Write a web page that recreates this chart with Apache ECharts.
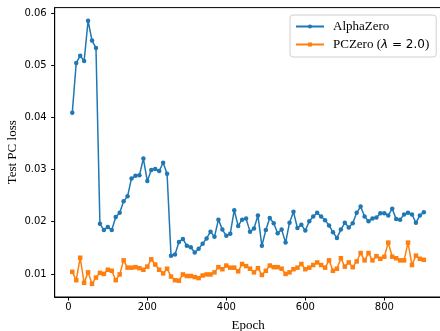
<!DOCTYPE html>
<html>
<head>
<meta charset="utf-8">
<script src="https://cdn.jsdelivr.net/npm/echarts@6/dist/echarts.min.js"></script>
<style>
html,body{margin:0;padding:0;background:#fff;}
#c{width:440px;height:331px;}
</style>
</head>
<body>
<div id="c"></div>
<script>
const epochs = [10,20,30,40,50,60,70,80,90,100,110,120,130,140,150,160,170,180,190,200,
210,220,230,240,250,260,270,280,290,300,310,320,330,340,350,360,370,380,390,400,
410,420,430,440,450,460,470,480,490,500,510,520,530,540,550,560,570,580,590,600,
610,620,630,640,650,660,670,680,690,700,710,720,730,740,750,760,770,780,790,800,
810,820,830,840,850,860,870,880,890,900];

const alphaZero = [0.0409,0.0504,0.0518,0.0508,0.0585,0.0547,0.0533,0.0196,0.0184,0.0190,
0.0184,0.0209,0.0217,0.0239,0.0249,0.0283,0.0288,0.0289,0.0321,0.0278,
0.0299,0.0301,0.0297,0.0313,0.0292,0.0135,0.0137,0.0161,0.0167,0.0154,
0.0151,0.0141,0.0148,0.0158,0.0168,0.0181,0.0171,0.0204,0.0185,0.0173,
0.0177,0.0222,0.0192,0.0204,0.0206,0.0181,0.0187,0.0212,0.0154,0.0184,
0.0207,0.0197,0.0178,0.0185,0.0160,0.0198,0.0219,0.0188,0.0194,0.0183,
0.0201,0.0210,0.0217,0.0210,0.0203,0.0193,0.0180,0.0169,0.0185,0.0198,
0.0189,0.0197,0.0217,0.0229,0.0210,0.0201,0.0206,0.0208,0.0216,0.0216,
0.0212,0.0225,0.0205,0.0204,0.0214,0.0217,0.0214,0.0198,0.0212,0.0218];

const pcZero = [0.0104,0.0088,0.0131,0.0083,0.0103,0.0081,0.0093,0.0102,0.0100,0.0108,
0.0106,0.0088,0.0099,0.0126,0.0112,0.0112,0.0113,0.0111,0.0108,0.0114,
0.0128,0.0118,0.0108,0.0101,0.0110,0.0095,0.0088,0.0087,0.0099,0.0096,
0.0096,0.0094,0.0092,0.0097,0.0099,0.0099,0.0103,0.0113,0.0109,0.0116,
0.0112,0.0112,0.0105,0.0119,0.0115,0.0110,0.0103,0.0111,0.0098,0.0106,
0.0116,0.0113,0.0113,0.0110,0.0100,0.0103,0.0109,0.0112,0.0119,0.0109,
0.0112,0.0117,0.0122,0.0117,0.0112,0.0126,0.0106,0.0110,0.0130,0.0114,
0.0122,0.0113,0.0124,0.0140,0.0126,0.0140,0.0126,0.0134,0.0129,0.0133,
0.0160,0.0133,0.0130,0.0126,0.0126,0.0160,0.0117,0.0135,0.0129,0.0127];

const xTicks = [0,200,400,600,800];
const yTicks = [0.01,0.02,0.03,0.04,0.05,0.06];
const seriesNames = ['AlphaZero','PCZero'];

const chart = echarts.init(document.getElementById('c'), null, {renderer:'canvas'});
const sansFont = 'DejaVu Sans';
const serifFont = 'Liberation Serif';

chart.setOption({
  animation: false,
  backgroundColor: '#fff',
  grid: {left: 54.7, top: 7.6, width: 386.7, height: 289.4, show: true,
         containLabel: false, outerBoundsMode: 'none',
         borderColor: '#000', borderWidth: 1, backgroundColor: 'transparent'},
  legend: {
    left: 290, top: 15, orient: 'vertical',
    itemWidth: 28, itemHeight: 5, itemGap: 5,
    padding: [5, 7, 6, 5],
    backgroundColor: 'rgba(255,255,255,0.8)',
    borderColor: '#d0d0d0', borderWidth: 1, borderRadius: 3,
    data: seriesNames,
    textStyle: {fontFamily: serifFont, fontSize: 13, color: '#000', padding: [0,0,0,4],
      rich: {
        s: {fontFamily: serifFont, fontSize: 13, color: '#000'},
        mi: {fontFamily: sansFont, fontStyle: 'italic', fontSize: 12, color: '#000'},
        m: {fontFamily: sansFont, fontSize: 12, color: '#000'}
      }},
    formatter: function(n){ return n === 'PCZero' ? '{s|PCZero (}{mi|λ}{m| = 2.0}{s|)}' : n; }
  },
  xAxis: {
    type: 'value', min: -34.5, max: 944.5,
    name: 'Epoch', nameLocation: 'middle', nameGap: 22, nameMoveOverlap: false,
    nameTextStyle: {fontFamily: serifFont, fontSize: 13, color: '#000'},
    axisLine: {show: true, onZero: false, lineStyle: {color: '#000', width: 1}},
    axisTick: {show: true, length: 3.5, lineStyle: {color: '#000', width: 1}, customValues: xTicks},
    axisLabel: {fontFamily: sansFont, fontSize: 10, color: '#000', margin: 5, customValues: xTicks},
    splitLine: {show: false}
  },
  yAxis: {
    type: 'value', min: 0.00558, max: 0.06102,
    name: 'Test PC loss', nameLocation: 'middle', nameGap: 36, nameMoveOverlap: false,
    nameTextStyle: {fontFamily: serifFont, fontSize: 13, color: '#000'},
    axisLine: {show: true, onZero: false, lineStyle: {color: '#000', width: 1}},
    axisTick: {show: true, length: 3.5, lineStyle: {color: '#000', width: 1}, customValues: yTicks},
    axisLabel: {fontFamily: sansFont, fontSize: 10, color: '#000', margin: 8, customValues: yTicks,
      formatter: v => v.toFixed(2)},
    splitLine: {show: false}
  },
  series: [
    {name: seriesNames[0], type: 'line', data: epochs.map((e,i)=>[e, alphaZero[i]]),
     color: '#1f77b4', symbol: 'circle', symbolSize: 4.5, showAllSymbol: true,
     lineStyle: {width: 1.5, color: '#1f77b4'}, itemStyle: {color: '#1f77b4'}},
    {name: seriesNames[1], type: 'line', data: epochs.map((e,i)=>[e, pcZero[i]]),
     color: '#ff7f0e', symbol: 'rect', symbolSize: 4.5, showAllSymbol: true,
     lineStyle: {width: 1.5, color: '#ff7f0e'}, itemStyle: {color: '#ff7f0e'}}
  ]
});
</script>
</body>
</html>
